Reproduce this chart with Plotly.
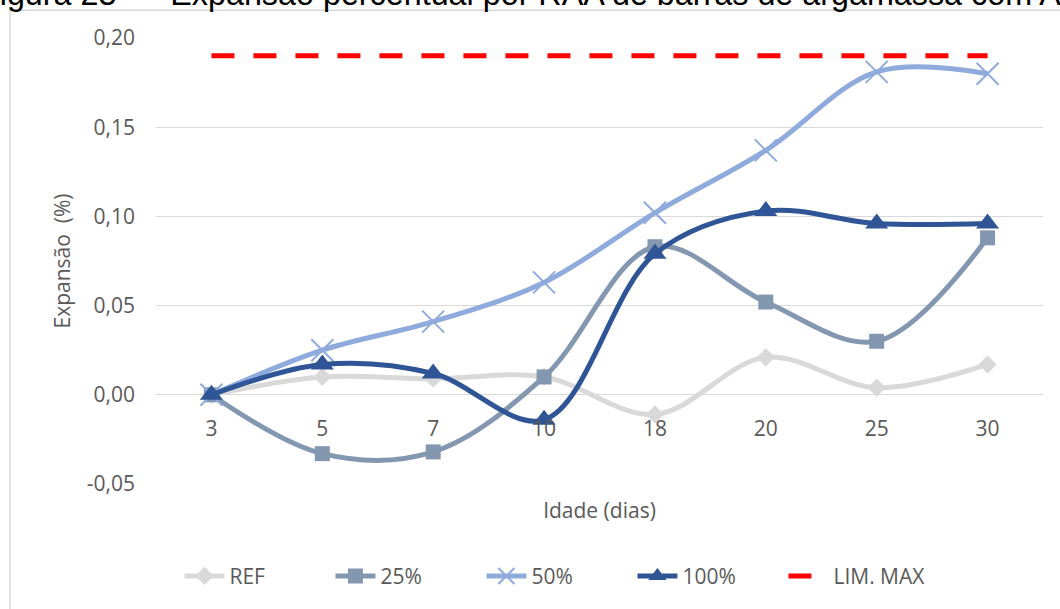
import plotly.graph_objects as go

# Idades de ensaio (dias) e expansão (%) por série
idades = ["3", "5", "7", "10", "18", "20", "25", "30"]
ref = [0.000, 0.010, 0.009, 0.010, -0.011, 0.021, 0.004, 0.017]
s25 = [0.000, -0.033, -0.032, 0.010, 0.083, 0.052, 0.030, 0.088]
s50 = [0.000, 0.025, 0.041, 0.063, 0.102, 0.137, 0.181, 0.180]
s100 = [0.000, 0.017, 0.012, -0.014, 0.079, 0.103, 0.096, 0.096]
lim_max = [0.19] * len(idades)

y_ticks = [-0.05, 0.00, 0.05, 0.10, 0.15, 0.20]
y_labels = [f"{v:.2f}".replace(".", ",") for v in y_ticks]

FONT = "Open Sans"
TXT = "#595959"
GRID = "#D9D9D9"

fig = go.Figure()

series = [
    ("REF", ref, "#D9D9D9", dict(symbol="diamond", size=14)),
    ("25%", s25, "#8497B0", dict(symbol="square", size=15)),
    ("50%", s50, "#8FAADC", dict(symbol="x-thin", size=22,
                                 line=dict(width=2, color="#8FAADC"))),
    ("100%", s100, "#2F5597", dict(symbol="triangle-up", size=20)),
]
for name, vals, color, mk in series:
    fig.add_trace(go.Scatter(
        x=idades, y=vals, name=name, mode="lines+markers",
        line=dict(color=color, width=5, shape="spline", smoothing=1),
        marker=dict(color=color, **mk),
    ))

fig.add_trace(go.Scatter(
    x=idades, y=lim_max, name="LIM. MAX", mode="lines",
    line=dict(color="#FF0000", width=5, dash="23px,19px"),
))

fig.update_layout(
    width=1060, height=609,
    margin=dict(l=156, r=17, t=38, b=122),
    paper_bgcolor="white", plot_bgcolor="white",
    font=dict(family=FONT, color=TXT, size=21),
    showlegend=True,
    legend=dict(orientation="h", x=0.452, xanchor="center", y=-0.207,
                yanchor="middle", font=dict(size=21, color=TXT),
                itemwidth=40, traceorder="normal",
                entrywidth=96, entrywidthmode="pixels"),
    xaxis=dict(type="category", categoryorder="array", categoryarray=idades,
               range=[-0.5, len(idades) - 0.5], showgrid=False,
               showline=False, zeroline=False, anchor="free", position=0.2,
               ticks="", ticklabelstandoff=19,
               tickfont=dict(size=21, color=TXT),
               title=dict(text="Idade (dias)", standoff=62,
                          font=dict(size=21, color=TXT))),
    yaxis=dict(range=[-0.05, 0.20], tickvals=y_ticks, ticktext=y_labels,
               showgrid=True, gridcolor=GRID, gridwidth=1.3,
               zeroline=False, showline=False, ticks="",
               ticklabelstandoff=20,
               tickfont=dict(size=21, color=TXT),
               title=dict(text="Expansão  (%)", standoff=10,
                          font=dict(size=21, color=TXT))),
)

# Moldura do gráfico
fig.add_shape(type="rect", xref="paper", yref="paper",
              x0=-0.1646, x1=1.05, y0=-0.35, y1=1.0624,
              line=dict(color=GRID, width=1.5), fillcolor="rgba(0,0,0,0)",
              layer="below")

# Legenda da figura no topo da página
fig.add_annotation(
    xref="paper", yref="paper", x=-0.2005, y=1, xanchor="left",
    yanchor="bottom", yshift=24, showarrow=False,
    text="Figura 23 –\u00a0\u00a0\u00a0Expansão percentual por RAA de barras de argamassa com A",
    font=dict(family="Liberation Sans", size=32.3, color="black"),
)

fig.write_html("out.html")
